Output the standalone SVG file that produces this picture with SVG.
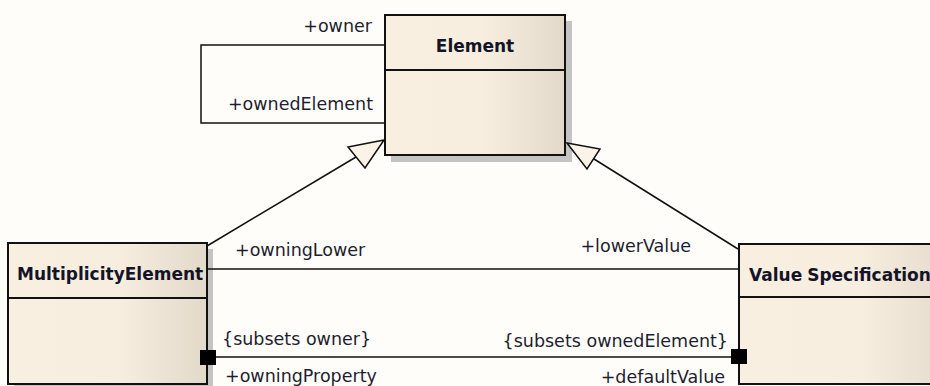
<svg xmlns="http://www.w3.org/2000/svg" width="930" height="386" viewBox="0 0 930 386">
<style>
  .box{fill:url(#g);stroke:#111;stroke-width:2}
  .shadow{fill:#c4c4c4}
  .div{stroke:#111;stroke-width:2}
  .title{font-family:"DejaVu Sans",sans-serif;font-weight:bold;font-size:17px;fill:#141428}
  .lbl{font-family:"DejaVu Sans",sans-serif;font-size:17.5px;fill:#1e1e30}
  .line{fill:none;stroke:#111;stroke-width:1.5}
  .gen{fill:#fbf3e6;stroke:#111;stroke-width:1.5;stroke-linejoin:miter}
  .comp{fill:#000}
</style>
<defs>
  <linearGradient id="g" x1="0" y1="0" x2="1" y2="0">
    <stop offset="0" stop-color="#f9efe0"/>
    <stop offset="0.55" stop-color="#f7eee0"/>
    <stop offset="1" stop-color="#e3d9c9"/>
  </linearGradient>
</defs>
<rect width="930" height="386" fill="#fefdf9"/>

<g id="Element">
  <rect class="shadow" x="391" y="21" width="181" height="141"/>
  <rect class="box" x="385" y="15" width="180" height="140"/>
  <line class="div" x1="385" y1="70" x2="565" y2="70"/>
  <text class="title" x="475" y="52" text-anchor="middle">Element</text>
</g>

<g id="MultiplicityElement">
  <rect class="shadow" x="14" y="249" width="199" height="141"/>
  <rect class="box" x="8" y="243" width="199" height="141"/>
  <line class="div" x1="8" y1="298" x2="207" y2="298"/>
  <text class="title" x="17" y="280">MultiplicityElement</text>
</g>

<g id="ValueSpecification">
  <rect class="box" x="739" y="244" width="220" height="140"/>
  <line class="div" x1="739" y1="297" x2="959" y2="297"/>
  <text class="title" x="749" y="281">Value<tspan dx="5">Specification</tspan></text>
</g>

<g id="connectors">
  <polyline class="line" points="385,45 201,45 201,123 385,123"/>
  <line class="line" x1="207" y1="246" x2="356" y2="157"/>
  <line class="line" x1="738" y1="249" x2="594" y2="159"/>
  <line class="line" x1="207" y1="269" x2="739" y2="269"/>
  <line class="line" x1="207" y1="357" x2="739" y2="357"/>
  <polygon class="gen" points="384,140 348,147 365,168"/>
  <polygon class="gen" points="567,143 600,149 587,169"/>
  <rect class="comp" x="200" y="350" width="16" height="15"/>
  <rect class="comp" x="731" y="349" width="16" height="15"/>
  <text class="lbl" x="372" y="32" text-anchor="end">+owner</text>
  <text class="lbl" x="373" y="110" text-anchor="end">+ownedElement</text>
  <text class="lbl" x="235" y="256">+owningLower</text>
  <text class="lbl" x="691" y="252" text-anchor="end">+lowerValue</text>
  <text class="lbl" x="222" y="345">{subsets owner}</text>
  <text class="lbl" x="225" y="382">+owningProperty</text>
  <text class="lbl" x="728" y="347" text-anchor="end">{subsets ownedElement}</text>
  <text class="lbl" x="725" y="383" text-anchor="end">+defaultValue</text>
</g>
</svg>
